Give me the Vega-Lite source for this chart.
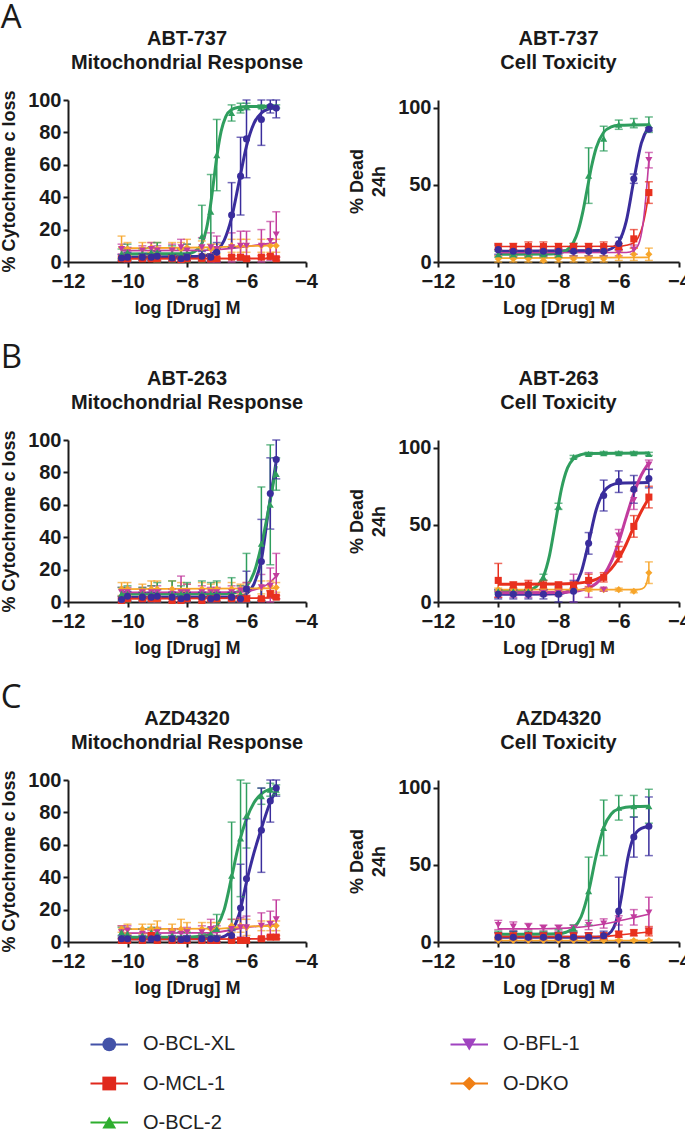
{
"$schema":"https://vega.github.io/schema/vega-lite/v6.json",
"padding":{"left":0,"top":1,"right":0,"bottom":0},
"spacing":24,
"config":{
 "view":{"stroke":null},
 "font":"Liberation Sans",
 "axis":{"domainColor":"#1a1a1a","domainWidth":2,"tickColor":"#1a1a1a","tickWidth":2,"tickSize":5,"labelFont":"Liberation Sans","labelFontSize":20,"labelFontWeight":"bold","labelColor":"#1a1a1a","titleFont":"Liberation Sans","titleFontSize":18,"titleFontWeight":"bold","titleColor":"#1a1a1a","grid":false,"labelFlush":false,"labelOverlap":false},
 "axisY":{"titlePadding":9,"labelPadding":2},
 "axisX":{"titlePadding":8,"labelPadding":4},
 "title":{"font":"Liberation Sans","fontSize":20,"fontWeight":"bold","color":"#1a1a1a","lineHeight":24,"anchor":"middle","frame":"group"}
},
"datasets":{
"leg":[{"s":"O-BCL-XL"},{"s":"O-MCL-1"},{"s":"O-BCL-2"},{"s":"O-BFL-1"},{"s":"O-DKO"}],
"pts":[
{"p":"A1","s":"O-DKO","x":-10.2,"y":9,"e":7},{"p":"A1","s":"O-DKO","x":-10,"y":8,"e":4},{"p":"A1","s":"O-DKO","x":-9.5,"y":8,"e":4},{"p":"A1","s":"O-DKO","x":-9.2,"y":9,"e":3},{"p":"A1","s":"O-DKO","x":-9,"y":8,"e":4},{"p":"A1","s":"O-DKO","x":-8.5,"y":8,"e":4},{"p":"A1","s":"O-DKO","x":-8.2,"y":8,"e":4},{"p":"A1","s":"O-DKO","x":-8,"y":9,"e":5},{"p":"A1","s":"O-DKO","x":-7.5,"y":9,"e":4},{"p":"A1","s":"O-DKO","x":-7.2,"y":8,"e":3},{"p":"A1","s":"O-DKO","x":-7,"y":8,"e":3},{"p":"A1","s":"O-DKO","x":-6.5,"y":10,"e":4},{"p":"A1","s":"O-DKO","x":-6.2,"y":10,"e":4},{"p":"A1","s":"O-DKO","x":-6,"y":10,"e":4},{"p":"A1","s":"O-DKO","x":-5.5,"y":10,"e":4},{"p":"A1","s":"O-DKO","x":-5.2,"y":10,"e":4},{"p":"A1","s":"O-DKO","x":-5,"y":10,"e":4},
{"p":"A1","s":"O-BFL-1","x":-10.2,"y":8,"e":3},{"p":"A1","s":"O-BFL-1","x":-10,"y":6,"e":3},{"p":"A1","s":"O-BFL-1","x":-9.5,"y":7,"e":3},{"p":"A1","s":"O-BFL-1","x":-9.2,"y":8,"e":4},{"p":"A1","s":"O-BFL-1","x":-9,"y":7,"e":3},{"p":"A1","s":"O-BFL-1","x":-8.5,"y":7,"e":4},{"p":"A1","s":"O-BFL-1","x":-8.2,"y":9,"e":5},{"p":"A1","s":"O-BFL-1","x":-8,"y":7,"e":4},{"p":"A1","s":"O-BFL-1","x":-7.5,"y":9,"e":6},{"p":"A1","s":"O-BFL-1","x":-7.2,"y":9,"e":9},{"p":"A1","s":"O-BFL-1","x":-7,"y":8,"e":8},{"p":"A1","s":"O-BFL-1","x":-6.5,"y":9,"e":9},{"p":"A1","s":"O-BFL-1","x":-6.2,"y":10,"e":9},{"p":"A1","s":"O-BFL-1","x":-6,"y":10,"e":9},{"p":"A1","s":"O-BFL-1","x":-5.5,"y":10,"e":10},{"p":"A1","s":"O-BFL-1","x":-5.2,"y":13,"e":12},{"p":"A1","s":"O-BFL-1","x":-5,"y":17,"e":14},
{"p":"A1","s":"O-BCL-2","x":-10.2,"y":5,"e":3},{"p":"A1","s":"O-BCL-2","x":-10,"y":6,"e":5},{"p":"A1","s":"O-BCL-2","x":-9.5,"y":5,"e":3},{"p":"A1","s":"O-BCL-2","x":-9.2,"y":6,"e":3},{"p":"A1","s":"O-BCL-2","x":-9,"y":6,"e":6},{"p":"A1","s":"O-BCL-2","x":-8.5,"y":5,"e":5},{"p":"A1","s":"O-BCL-2","x":-8.2,"y":5,"e":3},{"p":"A1","s":"O-BCL-2","x":-8,"y":5,"e":6},{"p":"A1","s":"O-BCL-2","x":-7.5,"y":16,"e":19},{"p":"A1","s":"O-BCL-2","x":-7.2,"y":31,"e":23},{"p":"A1","s":"O-BCL-2","x":-7,"y":66,"e":22},{"p":"A1","s":"O-BCL-2","x":-6.5,"y":92,"e":5},{"p":"A1","s":"O-BCL-2","x":-6.2,"y":95,"e":3},{"p":"A1","s":"O-BCL-2","x":-6,"y":96,"e":2},{"p":"A1","s":"O-BCL-2","x":-5.5,"y":96,"e":1},{"p":"A1","s":"O-BCL-2","x":-5.2,"y":96,"e":1},{"p":"A1","s":"O-BCL-2","x":-5,"y":96,"e":1},
{"p":"A1","s":"O-MCL-1","x":-10.2,"y":2,"e":1},{"p":"A1","s":"O-MCL-1","x":-10,"y":2,"e":1},{"p":"A1","s":"O-MCL-1","x":-9.5,"y":2,"e":1},{"p":"A1","s":"O-MCL-1","x":-9.2,"y":2,"e":1},{"p":"A1","s":"O-MCL-1","x":-9,"y":2,"e":1},{"p":"A1","s":"O-MCL-1","x":-8.5,"y":2,"e":1},{"p":"A1","s":"O-MCL-1","x":-8.2,"y":1.5,"e":1},{"p":"A1","s":"O-MCL-1","x":-8,"y":2,"e":1},{"p":"A1","s":"O-MCL-1","x":-7.5,"y":2,"e":1},{"p":"A1","s":"O-MCL-1","x":-7.2,"y":2,"e":1},{"p":"A1","s":"O-MCL-1","x":-7,"y":2,"e":1},{"p":"A1","s":"O-MCL-1","x":-6.5,"y":3,"e":1},{"p":"A1","s":"O-MCL-1","x":-6.2,"y":3,"e":1},{"p":"A1","s":"O-MCL-1","x":-6,"y":2,"e":1},{"p":"A1","s":"O-MCL-1","x":-5.5,"y":3,"e":1},{"p":"A1","s":"O-MCL-1","x":-5.2,"y":3.5,"e":1},{"p":"A1","s":"O-MCL-1","x":-5,"y":2,"e":1},
{"p":"A1","s":"O-BCL-XL","x":-10.2,"y":2.5,"e":2},{"p":"A1","s":"O-BCL-XL","x":-10,"y":3,"e":3},{"p":"A1","s":"O-BCL-XL","x":-9.5,"y":3,"e":2},{"p":"A1","s":"O-BCL-XL","x":-9.2,"y":3,"e":2},{"p":"A1","s":"O-BCL-XL","x":-9,"y":3.5,"e":3},{"p":"A1","s":"O-BCL-XL","x":-8.5,"y":2.5,"e":2},{"p":"A1","s":"O-BCL-XL","x":-8.2,"y":2,"e":2},{"p":"A1","s":"O-BCL-XL","x":-8,"y":3,"e":2},{"p":"A1","s":"O-BCL-XL","x":-7.5,"y":3.5,"e":3},{"p":"A1","s":"O-BCL-XL","x":-7.2,"y":3,"e":2},{"p":"A1","s":"O-BCL-XL","x":-7,"y":6,"e":6},{"p":"A1","s":"O-BCL-XL","x":-6.5,"y":29,"e":20},{"p":"A1","s":"O-BCL-XL","x":-6.2,"y":53,"e":24},{"p":"A1","s":"O-BCL-XL","x":-6,"y":76,"e":24},{"p":"A1","s":"O-BCL-XL","x":-5.5,"y":88,"e":16},{"p":"A1","s":"O-BCL-XL","x":-5.2,"y":96,"e":4},{"p":"A1","s":"O-BCL-XL","x":-5,"y":95,"e":6},

{"p":"A2","s":"O-DKO","x":-10,"y":2,"e":2},{"p":"A2","s":"O-DKO","x":-9.5,"y":2,"e":2},{"p":"A2","s":"O-DKO","x":-9,"y":2,"e":2},{"p":"A2","s":"O-DKO","x":-8.5,"y":1,"e":2},{"p":"A2","s":"O-DKO","x":-8,"y":2,"e":2},{"p":"A2","s":"O-DKO","x":-7.5,"y":2,"e":2},{"p":"A2","s":"O-DKO","x":-7,"y":2,"e":2},{"p":"A2","s":"O-DKO","x":-6.5,"y":2,"e":2},{"p":"A2","s":"O-DKO","x":-6,"y":4,"e":3},{"p":"A2","s":"O-DKO","x":-5.5,"y":5,"e":4},{"p":"A2","s":"O-DKO","x":-5,"y":5,"e":4},
{"p":"A2","s":"O-BFL-1","x":-10,"y":6,"e":2},{"p":"A2","s":"O-BFL-1","x":-9.5,"y":6,"e":2},{"p":"A2","s":"O-BFL-1","x":-9,"y":6,"e":2},{"p":"A2","s":"O-BFL-1","x":-8.5,"y":6,"e":2},{"p":"A2","s":"O-BFL-1","x":-8,"y":6,"e":2},{"p":"A2","s":"O-BFL-1","x":-7.5,"y":6,"e":2},{"p":"A2","s":"O-BFL-1","x":-7,"y":6,"e":2},{"p":"A2","s":"O-BFL-1","x":-6.5,"y":6,"e":2},{"p":"A2","s":"O-BFL-1","x":-6,"y":6,"e":2},{"p":"A2","s":"O-BFL-1","x":-5.5,"y":8,"e":3},{"p":"A2","s":"O-BFL-1","x":-5,"y":66,"e":5},
{"p":"A2","s":"O-BCL-2","x":-10,"y":5,"e":2},{"p":"A2","s":"O-BCL-2","x":-9.5,"y":5,"e":2},{"p":"A2","s":"O-BCL-2","x":-9,"y":5,"e":2},{"p":"A2","s":"O-BCL-2","x":-8.5,"y":5,"e":2},{"p":"A2","s":"O-BCL-2","x":-8,"y":5,"e":2},{"p":"A2","s":"O-BCL-2","x":-7.5,"y":9,"e":3},{"p":"A2","s":"O-BCL-2","x":-7,"y":56,"e":18},{"p":"A2","s":"O-BCL-2","x":-6.5,"y":80,"e":8},{"p":"A2","s":"O-BCL-2","x":-6,"y":89,"e":3},{"p":"A2","s":"O-BCL-2","x":-5.5,"y":90,"e":3},{"p":"A2","s":"O-BCL-2","x":-5,"y":89,"e":5},
{"p":"A2","s":"O-MCL-1","x":-10,"y":10,"e":2},{"p":"A2","s":"O-MCL-1","x":-9.5,"y":10,"e":2},{"p":"A2","s":"O-MCL-1","x":-9,"y":10,"e":3},{"p":"A2","s":"O-MCL-1","x":-8.5,"y":10,"e":3},{"p":"A2","s":"O-MCL-1","x":-8,"y":10,"e":2},{"p":"A2","s":"O-MCL-1","x":-7.5,"y":10,"e":2},{"p":"A2","s":"O-MCL-1","x":-7,"y":10,"e":2},{"p":"A2","s":"O-MCL-1","x":-6.5,"y":10,"e":3},{"p":"A2","s":"O-MCL-1","x":-6,"y":10,"e":2},{"p":"A2","s":"O-MCL-1","x":-5.5,"y":15,"e":6},{"p":"A2","s":"O-MCL-1","x":-5,"y":45,"e":7},
{"p":"A2","s":"O-BCL-XL","x":-10,"y":8,"e":3},{"p":"A2","s":"O-BCL-XL","x":-9.5,"y":7,"e":3},{"p":"A2","s":"O-BCL-XL","x":-9,"y":7,"e":3},{"p":"A2","s":"O-BCL-XL","x":-8.5,"y":7,"e":3},{"p":"A2","s":"O-BCL-XL","x":-8,"y":7,"e":2},{"p":"A2","s":"O-BCL-XL","x":-7.5,"y":7,"e":3},{"p":"A2","s":"O-BCL-XL","x":-7,"y":7,"e":3},{"p":"A2","s":"O-BCL-XL","x":-6.5,"y":7,"e":3},{"p":"A2","s":"O-BCL-XL","x":-6,"y":12,"e":4},{"p":"A2","s":"O-BCL-XL","x":-5.5,"y":54,"e":3},{"p":"A2","s":"O-BCL-XL","x":-5,"y":86,"e":1},

{"p":"B1","s":"O-DKO","x":-10.2,"y":8,"e":4},{"p":"B1","s":"O-DKO","x":-10,"y":8,"e":4},{"p":"B1","s":"O-DKO","x":-9.5,"y":7,"e":4},{"p":"B1","s":"O-DKO","x":-9.2,"y":8,"e":5},{"p":"B1","s":"O-DKO","x":-9,"y":8,"e":5},{"p":"B1","s":"O-DKO","x":-8.5,"y":8,"e":5},{"p":"B1","s":"O-DKO","x":-8.2,"y":7,"e":5},{"p":"B1","s":"O-DKO","x":-8,"y":7,"e":4},{"p":"B1","s":"O-DKO","x":-7.5,"y":8,"e":4},{"p":"B1","s":"O-DKO","x":-7.2,"y":7,"e":4},{"p":"B1","s":"O-DKO","x":-7,"y":8,"e":4},{"p":"B1","s":"O-DKO","x":-6.5,"y":8,"e":4},{"p":"B1","s":"O-DKO","x":-6.2,"y":8,"e":3},{"p":"B1","s":"O-DKO","x":-6,"y":8,"e":4},{"p":"B1","s":"O-DKO","x":-5.5,"y":9,"e":4},{"p":"B1","s":"O-DKO","x":-5.2,"y":10,"e":3},{"p":"B1","s":"O-DKO","x":-5,"y":9,"e":3},
{"p":"B1","s":"O-BFL-1","x":-10.2,"y":6,"e":3},{"p":"B1","s":"O-BFL-1","x":-10,"y":6,"e":3},{"p":"B1","s":"O-BFL-1","x":-9.5,"y":6,"e":3},{"p":"B1","s":"O-BFL-1","x":-9.2,"y":6,"e":4},{"p":"B1","s":"O-BFL-1","x":-9,"y":6,"e":4},{"p":"B1","s":"O-BFL-1","x":-8.5,"y":5,"e":3},{"p":"B1","s":"O-BFL-1","x":-8.2,"y":6,"e":10},{"p":"B1","s":"O-BFL-1","x":-8,"y":6,"e":5},{"p":"B1","s":"O-BFL-1","x":-7.5,"y":6,"e":4},{"p":"B1","s":"O-BFL-1","x":-7.2,"y":6,"e":3},{"p":"B1","s":"O-BFL-1","x":-7,"y":6,"e":3},{"p":"B1","s":"O-BFL-1","x":-6.5,"y":6,"e":4},{"p":"B1","s":"O-BFL-1","x":-6.2,"y":7,"e":3},{"p":"B1","s":"O-BFL-1","x":-6,"y":8,"e":4},{"p":"B1","s":"O-BFL-1","x":-5.5,"y":9,"e":8},{"p":"B1","s":"O-BFL-1","x":-5.2,"y":10,"e":11},{"p":"B1","s":"O-BFL-1","x":-5,"y":16,"e":14},
{"p":"B1","s":"O-BCL-2","x":-10.2,"y":5,"e":4},{"p":"B1","s":"O-BCL-2","x":-10,"y":5,"e":5},{"p":"B1","s":"O-BCL-2","x":-9.5,"y":5,"e":4},{"p":"B1","s":"O-BCL-2","x":-9.2,"y":5,"e":5},{"p":"B1","s":"O-BCL-2","x":-9,"y":5,"e":7},{"p":"B1","s":"O-BCL-2","x":-8.5,"y":5,"e":8},{"p":"B1","s":"O-BCL-2","x":-8.2,"y":5,"e":5},{"p":"B1","s":"O-BCL-2","x":-8,"y":5,"e":7},{"p":"B1","s":"O-BCL-2","x":-7.5,"y":5,"e":8},{"p":"B1","s":"O-BCL-2","x":-7.2,"y":5,"e":7},{"p":"B1","s":"O-BCL-2","x":-7,"y":5,"e":8},{"p":"B1","s":"O-BCL-2","x":-6.5,"y":5,"e":10},{"p":"B1","s":"O-BCL-2","x":-6.2,"y":5,"e":5},{"p":"B1","s":"O-BCL-2","x":-6,"y":8,"e":22},{"p":"B1","s":"O-BCL-2","x":-5.5,"y":36,"e":35},{"p":"B1","s":"O-BCL-2","x":-5.2,"y":60,"e":37},{"p":"B1","s":"O-BCL-2","x":-5,"y":79,"e":10},
{"p":"B1","s":"O-MCL-1","x":-10.2,"y":1,"e":1},{"p":"B1","s":"O-MCL-1","x":-10,"y":2,"e":1},{"p":"B1","s":"O-MCL-1","x":-9.5,"y":2,"e":1},{"p":"B1","s":"O-MCL-1","x":-9.2,"y":2,"e":1},{"p":"B1","s":"O-MCL-1","x":-9,"y":2,"e":1},{"p":"B1","s":"O-MCL-1","x":-8.5,"y":1,"e":1},{"p":"B1","s":"O-MCL-1","x":-8.2,"y":1,"e":1},{"p":"B1","s":"O-MCL-1","x":-8,"y":2,"e":1},{"p":"B1","s":"O-MCL-1","x":-7.5,"y":1,"e":1},{"p":"B1","s":"O-MCL-1","x":-7.2,"y":2,"e":1},{"p":"B1","s":"O-MCL-1","x":-7,"y":2,"e":1},{"p":"B1","s":"O-MCL-1","x":-6.5,"y":2,"e":1},{"p":"B1","s":"O-MCL-1","x":-6.2,"y":2,"e":1},{"p":"B1","s":"O-MCL-1","x":-6,"y":2,"e":1},{"p":"B1","s":"O-MCL-1","x":-5.5,"y":2,"e":1},{"p":"B1","s":"O-MCL-1","x":-5.2,"y":5,"e":2},{"p":"B1","s":"O-MCL-1","x":-5,"y":3,"e":1},
{"p":"B1","s":"O-BCL-XL","x":-10.2,"y":1.5,"e":2},{"p":"B1","s":"O-BCL-XL","x":-10,"y":3.5,"e":3},{"p":"B1","s":"O-BCL-XL","x":-9.5,"y":3,"e":3},{"p":"B1","s":"O-BCL-XL","x":-9.2,"y":3,"e":3},{"p":"B1","s":"O-BCL-XL","x":-9,"y":3.5,"e":4},{"p":"B1","s":"O-BCL-XL","x":-8.5,"y":3,"e":3},{"p":"B1","s":"O-BCL-XL","x":-8.2,"y":2,"e":2},{"p":"B1","s":"O-BCL-XL","x":-8,"y":3,"e":3},{"p":"B1","s":"O-BCL-XL","x":-7.5,"y":3,"e":3},{"p":"B1","s":"O-BCL-XL","x":-7.2,"y":2,"e":2},{"p":"B1","s":"O-BCL-XL","x":-7,"y":3,"e":3},{"p":"B1","s":"O-BCL-XL","x":-6.5,"y":3,"e":3},{"p":"B1","s":"O-BCL-XL","x":-6.2,"y":2,"e":2},{"p":"B1","s":"O-BCL-XL","x":-6,"y":8,"e":11},{"p":"B1","s":"O-BCL-XL","x":-5.5,"y":25,"e":26},{"p":"B1","s":"O-BCL-XL","x":-5.2,"y":67,"e":22},{"p":"B1","s":"O-BCL-XL","x":-5,"y":88,"e":12},

{"p":"B2","s":"O-DKO","x":-10,"y":8,"e":1},{"p":"B2","s":"O-DKO","x":-9.5,"y":8,"e":1},{"p":"B2","s":"O-DKO","x":-9,"y":8,"e":1},{"p":"B2","s":"O-DKO","x":-8.5,"y":8,"e":1},{"p":"B2","s":"O-DKO","x":-8,"y":8,"e":1},{"p":"B2","s":"O-DKO","x":-7.5,"y":8,"e":1},{"p":"B2","s":"O-DKO","x":-7,"y":8,"e":1},{"p":"B2","s":"O-DKO","x":-6.5,"y":8,"e":1},{"p":"B2","s":"O-DKO","x":-6,"y":8,"e":1},{"p":"B2","s":"O-DKO","x":-5.5,"y":7,"e":1},{"p":"B2","s":"O-DKO","x":-5,"y":19,"e":7},
{"p":"B2","s":"O-BFL-1","x":-10,"y":5,"e":2},{"p":"B2","s":"O-BFL-1","x":-9.5,"y":5,"e":2},{"p":"B2","s":"O-BFL-1","x":-9,"y":5,"e":2},{"p":"B2","s":"O-BFL-1","x":-8.5,"y":6,"e":2},{"p":"B2","s":"O-BFL-1","x":-8,"y":6,"e":2},{"p":"B2","s":"O-BFL-1","x":-7.5,"y":9,"e":9},{"p":"B2","s":"O-BFL-1","x":-7,"y":11,"e":8},{"p":"B2","s":"O-BFL-1","x":-6.5,"y":8,"e":1},{"p":"B2","s":"O-BFL-1","x":-6,"y":43,"e":4},{"p":"B2","s":"O-BFL-1","x":-5.5,"y":66,"e":6},{"p":"B2","s":"O-BFL-1","x":-5,"y":89,"e":3},
{"p":"B2","s":"O-BCL-2","x":-10,"y":7,"e":1},{"p":"B2","s":"O-BCL-2","x":-9.5,"y":7,"e":1},{"p":"B2","s":"O-BCL-2","x":-9,"y":7,"e":1},{"p":"B2","s":"O-BCL-2","x":-8.5,"y":16,"e":2},{"p":"B2","s":"O-BCL-2","x":-8,"y":62,"e":2},{"p":"B2","s":"O-BCL-2","x":-7.5,"y":94,"e":1},{"p":"B2","s":"O-BCL-2","x":-7,"y":96,"e":1},{"p":"B2","s":"O-BCL-2","x":-6.5,"y":96.5,"e":1},{"p":"B2","s":"O-BCL-2","x":-6,"y":96.5,"e":1},{"p":"B2","s":"O-BCL-2","x":-5.5,"y":96.5,"e":1},{"p":"B2","s":"O-BCL-2","x":-5,"y":96,"e":1},
{"p":"B2","s":"O-MCL-1","x":-10,"y":14,"e":11},{"p":"B2","s":"O-MCL-1","x":-9.5,"y":11,"e":2},{"p":"B2","s":"O-MCL-1","x":-9,"y":11,"e":3},{"p":"B2","s":"O-MCL-1","x":-8.5,"y":11,"e":3},{"p":"B2","s":"O-MCL-1","x":-8,"y":11,"e":2},{"p":"B2","s":"O-MCL-1","x":-7.5,"y":11,"e":2},{"p":"B2","s":"O-MCL-1","x":-7,"y":14,"e":4},{"p":"B2","s":"O-MCL-1","x":-6.5,"y":16,"e":3},{"p":"B2","s":"O-MCL-1","x":-6,"y":31,"e":5},{"p":"B2","s":"O-MCL-1","x":-5.5,"y":49,"e":7},{"p":"B2","s":"O-MCL-1","x":-5,"y":68,"e":7},
{"p":"B2","s":"O-BCL-XL","x":-10,"y":5,"e":3},{"p":"B2","s":"O-BCL-XL","x":-9.5,"y":5,"e":3},{"p":"B2","s":"O-BCL-XL","x":-9,"y":5,"e":3},{"p":"B2","s":"O-BCL-XL","x":-8.5,"y":5,"e":3},{"p":"B2","s":"O-BCL-XL","x":-8,"y":5,"e":5},{"p":"B2","s":"O-BCL-XL","x":-7.5,"y":7,"e":7},{"p":"B2","s":"O-BCL-XL","x":-7,"y":38,"e":7},{"p":"B2","s":"O-BCL-XL","x":-6.5,"y":69,"e":10},{"p":"B2","s":"O-BCL-XL","x":-6,"y":78,"e":7},{"p":"B2","s":"O-BCL-XL","x":-5.5,"y":73,"e":9},{"p":"B2","s":"O-BCL-XL","x":-5,"y":80,"e":6},

{"p":"C1","s":"O-DKO","x":-10.2,"y":8,"e":2},{"p":"C1","s":"O-DKO","x":-10,"y":8,"e":3},{"p":"C1","s":"O-DKO","x":-9.5,"y":8,"e":3},{"p":"C1","s":"O-DKO","x":-9.2,"y":8,"e":3},{"p":"C1","s":"O-DKO","x":-9,"y":8,"e":5},{"p":"C1","s":"O-DKO","x":-8.5,"y":7,"e":4},{"p":"C1","s":"O-DKO","x":-8.2,"y":8,"e":6},{"p":"C1","s":"O-DKO","x":-8,"y":7,"e":5},{"p":"C1","s":"O-DKO","x":-7.5,"y":8,"e":4},{"p":"C1","s":"O-DKO","x":-7.2,"y":8,"e":4},{"p":"C1","s":"O-DKO","x":-7,"y":8,"e":4},{"p":"C1","s":"O-DKO","x":-6.5,"y":10,"e":4},{"p":"C1","s":"O-DKO","x":-6.2,"y":10,"e":4},{"p":"C1","s":"O-DKO","x":-6,"y":9,"e":5},{"p":"C1","s":"O-DKO","x":-5.5,"y":10,"e":3},{"p":"C1","s":"O-DKO","x":-5.2,"y":10,"e":3},{"p":"C1","s":"O-DKO","x":-5,"y":10,"e":3},
{"p":"C1","s":"O-BFL-1","x":-10.2,"y":6,"e":4},{"p":"C1","s":"O-BFL-1","x":-10,"y":7,"e":3},{"p":"C1","s":"O-BFL-1","x":-9.5,"y":5,"e":3},{"p":"C1","s":"O-BFL-1","x":-9.2,"y":4,"e":3},{"p":"C1","s":"O-BFL-1","x":-9,"y":6,"e":3},{"p":"C1","s":"O-BFL-1","x":-8.5,"y":5,"e":3},{"p":"C1","s":"O-BFL-1","x":-8.2,"y":5,"e":3},{"p":"C1","s":"O-BFL-1","x":-8,"y":6,"e":3},{"p":"C1","s":"O-BFL-1","x":-7.5,"y":6,"e":4},{"p":"C1","s":"O-BFL-1","x":-7.2,"y":8,"e":6},{"p":"C1","s":"O-BFL-1","x":-7,"y":6,"e":4},{"p":"C1","s":"O-BFL-1","x":-6.5,"y":8,"e":6},{"p":"C1","s":"O-BFL-1","x":-6.2,"y":9,"e":6},{"p":"C1","s":"O-BFL-1","x":-6,"y":9,"e":7},{"p":"C1","s":"O-BFL-1","x":-5.5,"y":10,"e":8},{"p":"C1","s":"O-BFL-1","x":-5.2,"y":11,"e":8},{"p":"C1","s":"O-BFL-1","x":-5,"y":14,"e":12},
{"p":"C1","s":"O-BCL-2","x":-10.2,"y":6,"e":3},{"p":"C1","s":"O-BCL-2","x":-10,"y":5,"e":3},{"p":"C1","s":"O-BCL-2","x":-9.5,"y":4,"e":4},{"p":"C1","s":"O-BCL-2","x":-9.2,"y":6,"e":3},{"p":"C1","s":"O-BCL-2","x":-9,"y":5,"e":3},{"p":"C1","s":"O-BCL-2","x":-8.5,"y":4,"e":3},{"p":"C1","s":"O-BCL-2","x":-8.2,"y":3,"e":3},{"p":"C1","s":"O-BCL-2","x":-8,"y":3,"e":3},{"p":"C1","s":"O-BCL-2","x":-7.5,"y":3,"e":2},{"p":"C1","s":"O-BCL-2","x":-7.2,"y":5,"e":4},{"p":"C1","s":"O-BCL-2","x":-7,"y":8,"e":9},{"p":"C1","s":"O-BCL-2","x":-6.5,"y":41,"e":33},{"p":"C1","s":"O-BCL-2","x":-6.2,"y":64,"e":36},{"p":"C1","s":"O-BCL-2","x":-6,"y":78,"e":20},{"p":"C1","s":"O-BCL-2","x":-5.5,"y":90,"e":5},{"p":"C1","s":"O-BCL-2","x":-5.2,"y":94,"e":4},{"p":"C1","s":"O-BCL-2","x":-5,"y":94,"e":3},
{"p":"C1","s":"O-MCL-1","x":-10.2,"y":1,"e":1},{"p":"C1","s":"O-MCL-1","x":-10,"y":1,"e":1},{"p":"C1","s":"O-MCL-1","x":-9.5,"y":1,"e":1},{"p":"C1","s":"O-MCL-1","x":-9.2,"y":4,"e":1},{"p":"C1","s":"O-MCL-1","x":-9,"y":1,"e":1},{"p":"C1","s":"O-MCL-1","x":-8.5,"y":1,"e":1},{"p":"C1","s":"O-MCL-1","x":-8.2,"y":1,"e":1},{"p":"C1","s":"O-MCL-1","x":-8,"y":1,"e":1},{"p":"C1","s":"O-MCL-1","x":-7.5,"y":1,"e":1},{"p":"C1","s":"O-MCL-1","x":-7.2,"y":1,"e":1},{"p":"C1","s":"O-MCL-1","x":-7,"y":1,"e":1},{"p":"C1","s":"O-MCL-1","x":-6.5,"y":1,"e":1},{"p":"C1","s":"O-MCL-1","x":-6.2,"y":1,"e":1},{"p":"C1","s":"O-MCL-1","x":-6,"y":1,"e":1},{"p":"C1","s":"O-MCL-1","x":-5.5,"y":2,"e":1},{"p":"C1","s":"O-MCL-1","x":-5.2,"y":3,"e":1},{"p":"C1","s":"O-MCL-1","x":-5,"y":3,"e":1},
{"p":"C1","s":"O-BCL-XL","x":-10.2,"y":2,"e":2},{"p":"C1","s":"O-BCL-XL","x":-10,"y":2,"e":2},{"p":"C1","s":"O-BCL-XL","x":-9.5,"y":2,"e":2},{"p":"C1","s":"O-BCL-XL","x":-9.2,"y":2,"e":2},{"p":"C1","s":"O-BCL-XL","x":-9,"y":2.5,"e":2},{"p":"C1","s":"O-BCL-XL","x":-8.5,"y":2,"e":2},{"p":"C1","s":"O-BCL-XL","x":-8.2,"y":1.5,"e":2},{"p":"C1","s":"O-BCL-XL","x":-8,"y":2,"e":2},{"p":"C1","s":"O-BCL-XL","x":-7.5,"y":2,"e":2},{"p":"C1","s":"O-BCL-XL","x":-7.2,"y":2,"e":2},{"p":"C1","s":"O-BCL-XL","x":-7,"y":2,"e":2},{"p":"C1","s":"O-BCL-XL","x":-6.5,"y":4,"e":3},{"p":"C1","s":"O-BCL-XL","x":-6.2,"y":21,"e":27},{"p":"C1","s":"O-BCL-XL","x":-6,"y":39,"e":37},{"p":"C1","s":"O-BCL-XL","x":-5.5,"y":69,"e":26},{"p":"C1","s":"O-BCL-XL","x":-5.2,"y":87,"e":13},{"p":"C1","s":"O-BCL-XL","x":-5,"y":95,"e":5},

{"p":"C2","s":"O-DKO","x":-10,"y":1,"e":0.5},{"p":"C2","s":"O-DKO","x":-9.5,"y":1,"e":0.5},{"p":"C2","s":"O-DKO","x":-9,"y":1,"e":0.5},{"p":"C2","s":"O-DKO","x":-8.5,"y":1,"e":0.5},{"p":"C2","s":"O-DKO","x":-8,"y":1,"e":0.5},{"p":"C2","s":"O-DKO","x":-7.5,"y":1,"e":0.5},{"p":"C2","s":"O-DKO","x":-7,"y":1,"e":0.5},{"p":"C2","s":"O-DKO","x":-6.5,"y":1,"e":0.5},{"p":"C2","s":"O-DKO","x":-6,"y":1,"e":0.5},{"p":"C2","s":"O-DKO","x":-5.5,"y":1,"e":0.5},{"p":"C2","s":"O-DKO","x":-5,"y":1,"e":0.5},
{"p":"C2","s":"O-BFL-1","x":-10,"y":11,"e":3},{"p":"C2","s":"O-BFL-1","x":-9.5,"y":10,"e":3},{"p":"C2","s":"O-BFL-1","x":-9,"y":10,"e":2},{"p":"C2","s":"O-BFL-1","x":-8.5,"y":9,"e":2},{"p":"C2","s":"O-BFL-1","x":-8,"y":9,"e":2},{"p":"C2","s":"O-BFL-1","x":-7.5,"y":9,"e":2},{"p":"C2","s":"O-BFL-1","x":-7,"y":11,"e":3},{"p":"C2","s":"O-BFL-1","x":-6.5,"y":12,"e":3},{"p":"C2","s":"O-BFL-1","x":-6,"y":14,"e":3},{"p":"C2","s":"O-BFL-1","x":-5.5,"y":16,"e":5},{"p":"C2","s":"O-BFL-1","x":-5,"y":19,"e":10},
{"p":"C2","s":"O-BCL-2","x":-10,"y":5,"e":2},{"p":"C2","s":"O-BCL-2","x":-9.5,"y":5,"e":2},{"p":"C2","s":"O-BCL-2","x":-9,"y":5,"e":2},{"p":"C2","s":"O-BCL-2","x":-8.5,"y":5,"e":2},{"p":"C2","s":"O-BCL-2","x":-8,"y":6,"e":2},{"p":"C2","s":"O-BCL-2","x":-7.5,"y":9,"e":2},{"p":"C2","s":"O-BCL-2","x":-7,"y":33,"e":22},{"p":"C2","s":"O-BCL-2","x":-6.5,"y":74,"e":18},{"p":"C2","s":"O-BCL-2","x":-6,"y":87,"e":8},{"p":"C2","s":"O-BCL-2","x":-5.5,"y":88,"e":7},{"p":"C2","s":"O-BCL-2","x":-5,"y":88,"e":11},
{"p":"C2","s":"O-MCL-1","x":-10,"y":4,"e":2},{"p":"C2","s":"O-MCL-1","x":-9.5,"y":4,"e":2},{"p":"C2","s":"O-MCL-1","x":-9,"y":4,"e":2},{"p":"C2","s":"O-MCL-1","x":-8.5,"y":4,"e":2},{"p":"C2","s":"O-MCL-1","x":-8,"y":4,"e":2},{"p":"C2","s":"O-MCL-1","x":-7.5,"y":4,"e":2},{"p":"C2","s":"O-MCL-1","x":-7,"y":4,"e":2},{"p":"C2","s":"O-MCL-1","x":-6.5,"y":4,"e":2},{"p":"C2","s":"O-MCL-1","x":-6,"y":5,"e":2},{"p":"C2","s":"O-MCL-1","x":-5.5,"y":6,"e":2},{"p":"C2","s":"O-MCL-1","x":-5,"y":7,"e":3},
{"p":"C2","s":"O-BCL-XL","x":-10,"y":3,"e":3},{"p":"C2","s":"O-BCL-XL","x":-9.5,"y":3,"e":4},{"p":"C2","s":"O-BCL-XL","x":-9,"y":3,"e":3},{"p":"C2","s":"O-BCL-XL","x":-8.5,"y":3,"e":3},{"p":"C2","s":"O-BCL-XL","x":-8,"y":3,"e":3},{"p":"C2","s":"O-BCL-XL","x":-7.5,"y":3,"e":3},{"p":"C2","s":"O-BCL-XL","x":-7,"y":3,"e":3},{"p":"C2","s":"O-BCL-XL","x":-6.5,"y":4,"e":3},{"p":"C2","s":"O-BCL-XL","x":-6,"y":20,"e":22},{"p":"C2","s":"O-BCL-XL","x":-5.5,"y":68,"e":13},{"p":"C2","s":"O-BCL-XL","x":-5,"y":75,"e":19}
],
"fit":[
{"p":"A1","s":"O-BCL-XL","x":-10.2,"y":3},{"p":"A1","s":"O-BCL-XL","x":-7.5,"y":3.5},{"p":"A1","s":"O-BCL-XL","x":-7.25,"y":4.5},{"p":"A1","s":"O-BCL-XL","x":-7,"y":7},{"p":"A1","s":"O-BCL-XL","x":-6.75,"y":13.4},{"p":"A1","s":"O-BCL-XL","x":-6.5,"y":27.4},{"p":"A1","s":"O-BCL-XL","x":-6.25,"y":49.5},{"p":"A1","s":"O-BCL-XL","x":-6,"y":71.6},{"p":"A1","s":"O-BCL-XL","x":-5.75,"y":85.6},{"p":"A1","s":"O-BCL-XL","x":-5.5,"y":92},{"p":"A1","s":"O-BCL-XL","x":-5.25,"y":94.5},{"p":"A1","s":"O-BCL-XL","x":-5,"y":95.5},
{"p":"A1","s":"O-BCL-2","x":-10.2,"y":5},{"p":"A1","s":"O-BCL-2","x":-8,"y":5.1},{"p":"A1","s":"O-BCL-2","x":-7.75,"y":6.4},{"p":"A1","s":"O-BCL-2","x":-7.5,"y":11.4},{"p":"A1","s":"O-BCL-2","x":-7.35,"y":20.1},{"p":"A1","s":"O-BCL-2","x":-7.2,"y":36.3},{"p":"A1","s":"O-BCL-2","x":-7.1,"y":50.5},{"p":"A1","s":"O-BCL-2","x":-7,"y":64.7},{"p":"A1","s":"O-BCL-2","x":-6.85,"y":80.9},{"p":"A1","s":"O-BCL-2","x":-6.7,"y":89.6},{"p":"A1","s":"O-BCL-2","x":-6.5,"y":94.1},{"p":"A1","s":"O-BCL-2","x":-6.25,"y":95.6},{"p":"A1","s":"O-BCL-2","x":-6,"y":96},{"p":"A1","s":"O-BCL-2","x":-5,"y":96},
{"p":"A1","s":"O-MCL-1","x":-10.2,"y":2},{"p":"A1","s":"O-MCL-1","x":-5,"y":2.2},
{"p":"A1","s":"O-BFL-1","x":-10.2,"y":7},{"p":"A1","s":"O-BFL-1","x":-7.5,"y":7.2},{"p":"A1","s":"O-BFL-1","x":-7,"y":7.6},{"p":"A1","s":"O-BFL-1","x":-6.5,"y":8.4},{"p":"A1","s":"O-BFL-1","x":-6,"y":9.5},{"p":"A1","s":"O-BFL-1","x":-5.5,"y":10.8},{"p":"A1","s":"O-BFL-1","x":-5,"y":12},
{"p":"A1","s":"O-DKO","x":-10.2,"y":8.5},{"p":"A1","s":"O-DKO","x":-8,"y":8.8},{"p":"A1","s":"O-DKO","x":-7,"y":9.2},{"p":"A1","s":"O-DKO","x":-6,"y":9.8},{"p":"A1","s":"O-DKO","x":-5,"y":10.3},

{"p":"A2","s":"O-BCL-XL","x":-10,"y":7},{"p":"A2","s":"O-BCL-XL","x":-6.5,"y":7.4},{"p":"A2","s":"O-BCL-XL","x":-6.25,"y":8.6},{"p":"A2","s":"O-BCL-XL","x":-6,"y":12.9},{"p":"A2","s":"O-BCL-XL","x":-5.75,"y":26.5},{"p":"A2","s":"O-BCL-XL","x":-5.5,"y":53},{"p":"A2","s":"O-BCL-XL","x":-5.25,"y":77},{"p":"A2","s":"O-BCL-XL","x":-5,"y":87.7},
{"p":"A2","s":"O-BCL-2","x":-10,"y":5},{"p":"A2","s":"O-BCL-2","x":-8.25,"y":5.2},{"p":"A2","s":"O-BCL-2","x":-8,"y":5.7},{"p":"A2","s":"O-BCL-2","x":-7.75,"y":7.4},{"p":"A2","s":"O-BCL-2","x":-7.5,"y":12.8},{"p":"A2","s":"O-BCL-2","x":-7.35,"y":20.1},{"p":"A2","s":"O-BCL-2","x":-7.2,"y":31.8},{"p":"A2","s":"O-BCL-2","x":-7.05,"y":47},{"p":"A2","s":"O-BCL-2","x":-6.9,"y":62.2},{"p":"A2","s":"O-BCL-2","x":-6.75,"y":73.9},{"p":"A2","s":"O-BCL-2","x":-6.5,"y":84.1},{"p":"A2","s":"O-BCL-2","x":-6.25,"y":87.6},{"p":"A2","s":"O-BCL-2","x":-6,"y":88.6},{"p":"A2","s":"O-BCL-2","x":-5,"y":89},
{"p":"A2","s":"O-MCL-1","x":-10,"y":10},{"p":"A2","s":"O-MCL-1","x":-6,"y":10.2},{"p":"A2","s":"O-MCL-1","x":-5.75,"y":10.8},{"p":"A2","s":"O-MCL-1","x":-5.5,"y":12.5},{"p":"A2","s":"O-MCL-1","x":-5.35,"y":16},{"p":"A2","s":"O-MCL-1","x":-5.2,"y":24},{"p":"A2","s":"O-MCL-1","x":-5.1,"y":33},{"p":"A2","s":"O-MCL-1","x":-5,"y":45},
{"p":"A2","s":"O-BFL-1","x":-10,"y":6},{"p":"A2","s":"O-BFL-1","x":-5.75,"y":6.2},{"p":"A2","s":"O-BFL-1","x":-5.5,"y":7.5},{"p":"A2","s":"O-BFL-1","x":-5.35,"y":11},{"p":"A2","s":"O-BFL-1","x":-5.2,"y":24},{"p":"A2","s":"O-BFL-1","x":-5.1,"y":42},{"p":"A2","s":"O-BFL-1","x":-5,"y":66},
{"p":"A2","s":"O-DKO","x":-10,"y":2.5},{"p":"A2","s":"O-DKO","x":-5,"y":3},

{"p":"B1","s":"O-BCL-XL","x":-10.2,"y":3},{"p":"B1","s":"O-BCL-XL","x":-6.5,"y":3.1},{"p":"B1","s":"O-BCL-XL","x":-6.2,"y":3.6},{"p":"B1","s":"O-BCL-XL","x":-6,"y":5},{"p":"B1","s":"O-BCL-XL","x":-5.75,"y":11},{"p":"B1","s":"O-BCL-XL","x":-5.5,"y":26},{"p":"B1","s":"O-BCL-XL","x":-5.25,"y":58},{"p":"B1","s":"O-BCL-XL","x":-5,"y":87},
{"p":"B1","s":"O-BCL-2","x":-10.2,"y":5},{"p":"B1","s":"O-BCL-2","x":-6.5,"y":5.3},{"p":"B1","s":"O-BCL-2","x":-6.25,"y":6.5},{"p":"B1","s":"O-BCL-2","x":-6,"y":9.5},{"p":"B1","s":"O-BCL-2","x":-5.75,"y":18},{"p":"B1","s":"O-BCL-2","x":-5.5,"y":35},{"p":"B1","s":"O-BCL-2","x":-5.25,"y":58},{"p":"B1","s":"O-BCL-2","x":-5,"y":84},
{"p":"B1","s":"O-MCL-1","x":-10.2,"y":2},{"p":"B1","s":"O-MCL-1","x":-5,"y":2.5},
{"p":"B1","s":"O-BFL-1","x":-10.2,"y":6},{"p":"B1","s":"O-BFL-1","x":-6.25,"y":6.1},{"p":"B1","s":"O-BFL-1","x":-6,"y":6.5},{"p":"B1","s":"O-BFL-1","x":-5.75,"y":7.5},{"p":"B1","s":"O-BFL-1","x":-5.5,"y":9},{"p":"B1","s":"O-BFL-1","x":-5.25,"y":11.5},{"p":"B1","s":"O-BFL-1","x":-5,"y":16},
{"p":"B1","s":"O-DKO","x":-10.2,"y":8},{"p":"B1","s":"O-DKO","x":-5,"y":8.5},

{"p":"B2","s":"O-BCL-XL","x":-10,"y":5},{"p":"B2","s":"O-BCL-XL","x":-8,"y":5.4},{"p":"B2","s":"O-BCL-XL","x":-7.75,"y":6.4},{"p":"B2","s":"O-BCL-XL","x":-7.5,"y":9.6},{"p":"B2","s":"O-BCL-XL","x":-7.25,"y":19.1},{"p":"B2","s":"O-BCL-XL","x":-7,"y":38.5},{"p":"B2","s":"O-BCL-XL","x":-6.75,"y":59.6},{"p":"B2","s":"O-BCL-XL","x":-6.5,"y":71.4},{"p":"B2","s":"O-BCL-XL","x":-6.25,"y":75.7},{"p":"B2","s":"O-BCL-XL","x":-6,"y":77},{"p":"B2","s":"O-BCL-XL","x":-5,"y":77.5},
{"p":"B2","s":"O-BCL-2","x":-10,"y":7},{"p":"B2","s":"O-BCL-2","x":-9.25,"y":7.2},{"p":"B2","s":"O-BCL-2","x":-9,"y":7.75},{"p":"B2","s":"O-BCL-2","x":-8.75,"y":9.8},{"p":"B2","s":"O-BCL-2","x":-8.5,"y":16.6},{"p":"B2","s":"O-BCL-2","x":-8.3,"y":30.1},{"p":"B2","s":"O-BCL-2","x":-8.1,"y":51.75},{"p":"B2","s":"O-BCL-2","x":-7.9,"y":73.4},{"p":"B2","s":"O-BCL-2","x":-7.7,"y":86.9},{"p":"B2","s":"O-BCL-2","x":-7.5,"y":92.9},{"p":"B2","s":"O-BCL-2","x":-7.25,"y":95.5},{"p":"B2","s":"O-BCL-2","x":-7,"y":96.2},{"p":"B2","s":"O-BCL-2","x":-5,"y":96.5},
{"p":"B2","s":"O-MCL-1","x":-10,"y":11.5},{"p":"B2","s":"O-MCL-1","x":-8,"y":11.7},{"p":"B2","s":"O-MCL-1","x":-7.5,"y":12},{"p":"B2","s":"O-MCL-1","x":-7,"y":13.2},{"p":"B2","s":"O-MCL-1","x":-6.75,"y":14.7},{"p":"B2","s":"O-MCL-1","x":-6.5,"y":17.2},{"p":"B2","s":"O-MCL-1","x":-6.25,"y":21.6},{"p":"B2","s":"O-MCL-1","x":-6,"y":28.3},{"p":"B2","s":"O-MCL-1","x":-5.75,"y":37.6},{"p":"B2","s":"O-MCL-1","x":-5.5,"y":48.7},{"p":"B2","s":"O-MCL-1","x":-5.25,"y":58.8},{"p":"B2","s":"O-MCL-1","x":-5,"y":67.2},
{"p":"B2","s":"O-BFL-1","x":-10,"y":6},{"p":"B2","s":"O-BFL-1","x":-8,"y":6.2},{"p":"B2","s":"O-BFL-1","x":-7.5,"y":6.8},{"p":"B2","s":"O-BFL-1","x":-7,"y":9.1},{"p":"B2","s":"O-BFL-1","x":-6.75,"y":12},{"p":"B2","s":"O-BFL-1","x":-6.5,"y":17.3},{"p":"B2","s":"O-BFL-1","x":-6.25,"y":26.1},{"p":"B2","s":"O-BFL-1","x":-6,"y":39.1},{"p":"B2","s":"O-BFL-1","x":-5.75,"y":55},{"p":"B2","s":"O-BFL-1","x":-5.5,"y":70.3},{"p":"B2","s":"O-BFL-1","x":-5.25,"y":82.3},{"p":"B2","s":"O-BFL-1","x":-5,"y":90.2},
{"p":"B2","s":"O-DKO","x":-10,"y":8},{"p":"B2","s":"O-DKO","x":-5.5,"y":8},{"p":"B2","s":"O-DKO","x":-5.3,"y":8.2},{"p":"B2","s":"O-DKO","x":-5.15,"y":9.5},{"p":"B2","s":"O-DKO","x":-5.08,"y":12},{"p":"B2","s":"O-DKO","x":-5,"y":19},

{"p":"C1","s":"O-BCL-XL","x":-10.2,"y":2},{"p":"C1","s":"O-BCL-XL","x":-7.5,"y":2},{"p":"C1","s":"O-BCL-XL","x":-7,"y":2.3},{"p":"C1","s":"O-BCL-XL","x":-6.75,"y":3.5},{"p":"C1","s":"O-BCL-XL","x":-6.5,"y":7},{"p":"C1","s":"O-BCL-XL","x":-6.25,"y":17},{"p":"C1","s":"O-BCL-XL","x":-6,"y":37},{"p":"C1","s":"O-BCL-XL","x":-5.75,"y":55},{"p":"C1","s":"O-BCL-XL","x":-5.5,"y":70},{"p":"C1","s":"O-BCL-XL","x":-5.25,"y":84},{"p":"C1","s":"O-BCL-XL","x":-5,"y":94},
{"p":"C1","s":"O-BCL-2","x":-10.2,"y":3},{"p":"C1","s":"O-BCL-2","x":-8,"y":3},{"p":"C1","s":"O-BCL-2","x":-7.5,"y":3.5},{"p":"C1","s":"O-BCL-2","x":-7.25,"y":5},{"p":"C1","s":"O-BCL-2","x":-7,"y":9.5},{"p":"C1","s":"O-BCL-2","x":-6.75,"y":20},{"p":"C1","s":"O-BCL-2","x":-6.5,"y":40},{"p":"C1","s":"O-BCL-2","x":-6.25,"y":61},{"p":"C1","s":"O-BCL-2","x":-6,"y":76},{"p":"C1","s":"O-BCL-2","x":-5.75,"y":86},{"p":"C1","s":"O-BCL-2","x":-5.5,"y":91.5},{"p":"C1","s":"O-BCL-2","x":-5.25,"y":94},{"p":"C1","s":"O-BCL-2","x":-5,"y":95},
{"p":"C1","s":"O-MCL-1","x":-10.2,"y":1.5},{"p":"C1","s":"O-MCL-1","x":-5,"y":2},
{"p":"C1","s":"O-BFL-1","x":-10.2,"y":5.5},{"p":"C1","s":"O-BFL-1","x":-7.5,"y":5.6},{"p":"C1","s":"O-BFL-1","x":-7,"y":6},{"p":"C1","s":"O-BFL-1","x":-6.5,"y":7.5},{"p":"C1","s":"O-BFL-1","x":-6,"y":9},{"p":"C1","s":"O-BFL-1","x":-5.5,"y":10},{"p":"C1","s":"O-BFL-1","x":-5,"y":11},
{"p":"C1","s":"O-DKO","x":-10.2,"y":8},{"p":"C1","s":"O-DKO","x":-7,"y":8.2},{"p":"C1","s":"O-DKO","x":-6.5,"y":8.8},{"p":"C1","s":"O-DKO","x":-6,"y":9.5},{"p":"C1","s":"O-DKO","x":-5,"y":10},

{"p":"C2","s":"O-BCL-XL","x":-10,"y":3},{"p":"C2","s":"O-BCL-XL","x":-6.75,"y":3.1},{"p":"C2","s":"O-BCL-XL","x":-6.5,"y":3.7},{"p":"C2","s":"O-BCL-XL","x":-6.25,"y":6.7},{"p":"C2","s":"O-BCL-XL","x":-6.1,"y":12.6},{"p":"C2","s":"O-BCL-XL","x":-6,"y":20},{"p":"C2","s":"O-BCL-XL","x":-5.9,"y":30.4},{"p":"C2","s":"O-BCL-XL","x":-5.8,"y":42.7},{"p":"C2","s":"O-BCL-XL","x":-5.7,"y":54.2},{"p":"C2","s":"O-BCL-XL","x":-5.5,"y":68.3},{"p":"C2","s":"O-BCL-XL","x":-5.25,"y":73.7},{"p":"C2","s":"O-BCL-XL","x":-5,"y":74.8},
{"p":"C2","s":"O-BCL-2","x":-10,"y":5},{"p":"C2","s":"O-BCL-2","x":-8,"y":5.4},{"p":"C2","s":"O-BCL-2","x":-7.75,"y":6.3},{"p":"C2","s":"O-BCL-2","x":-7.5,"y":9},{"p":"C2","s":"O-BCL-2","x":-7.25,"y":16.4},{"p":"C2","s":"O-BCL-2","x":-7,"y":32.7},{"p":"C2","s":"O-BCL-2","x":-6.75,"y":55.9},{"p":"C2","s":"O-BCL-2","x":-6.5,"y":74.2},{"p":"C2","s":"O-BCL-2","x":-6.25,"y":83},{"p":"C2","s":"O-BCL-2","x":-6,"y":86.3},{"p":"C2","s":"O-BCL-2","x":-5.5,"y":87.8},{"p":"C2","s":"O-BCL-2","x":-5,"y":88},
{"p":"C2","s":"O-MCL-1","x":-10,"y":3.5},{"p":"C2","s":"O-MCL-1","x":-6.5,"y":3.6},{"p":"C2","s":"O-MCL-1","x":-6,"y":4.5},{"p":"C2","s":"O-MCL-1","x":-5.5,"y":5.5},{"p":"C2","s":"O-MCL-1","x":-5,"y":6.5},
{"p":"C2","s":"O-BFL-1","x":-10,"y":8.5},{"p":"C2","s":"O-BFL-1","x":-8.5,"y":8.6},{"p":"C2","s":"O-BFL-1","x":-8,"y":8.8},{"p":"C2","s":"O-BFL-1","x":-7.5,"y":9.3},{"p":"C2","s":"O-BFL-1","x":-7,"y":10.2},{"p":"C2","s":"O-BFL-1","x":-6.5,"y":11.7},{"p":"C2","s":"O-BFL-1","x":-6,"y":13.6},{"p":"C2","s":"O-BFL-1","x":-5.5,"y":15.8},{"p":"C2","s":"O-BFL-1","x":-5,"y":18},
{"p":"C2","s":"O-DKO","x":-10,"y":1},{"p":"C2","s":"O-DKO","x":-5,"y":1}
]
},
"vconcat":[
{"title":{"text":"A","anchor":"start","frame":"bounds","font":"Open Sans","fontSize":33,"fontWeight":"normal","offset":-6},
 "spacing":30,
 "hconcat":[
 {"width":238,"height":162,"title":{"text":["ABT-737","Mitochondrial Response"],"offset":17},
  "encoding":{"x":{"field":"x","type":"quantitative","scale":{"domain":[-12,-4],"nice":false,"zero":false},"axis":{"values":[-12,-10,-8,-6,-4],"title":"log [Drug] M"}},
   "y":{"field":"y","type":"quantitative","scale":{"domain":[0,100],"nice":false,"clamp":true},"axis":{"values":[0,20,40,60,80,100],"title":"% Cytochrome c loss"}},
   "color":{"field":"s","type":"nominal","scale":{"domain":["O-BCL-XL","O-MCL-1","O-BCL-2","O-BFL-1","O-DKO"],"range":["#3A2D9C","#E8301E","#2F9E5E","#C23C9E","#F7A52A"]},"legend":null}},
  "layer":[
   {"data":{"name":"fit"},"transform":[{"filter":{"field":"p","equal":"A1"}},{"filter":{"field":"s","oneOf":["O-BCL-XL","O-BCL-2"]}}],"mark":{"type":"line","interpolate":"monotone","strokeWidth":3},"encoding":{}},
   {"data":{"name":"fit"},"transform":[{"filter":{"field":"p","equal":"A1"}},{"filter":{"not":{"field":"s","oneOf":["O-BCL-XL","O-BCL-2"]}}}],"mark":{"type":"line","interpolate":"monotone","strokeWidth":1.8},"encoding":{}},
   {"data":{"name":"pts"},"transform":[{"filter":{"field":"p","equal":"A1"}}],"mark":{"type":"errorbar","ticks":{"size":8,"thickness":1.5},"thickness":1.5},"encoding":{"yError":{"field":"e"}}},
   {"data":{"name":"pts"},"transform":[{"filter":{"field":"p","equal":"A1"}}],"mark":{"type":"point","filled":true,"size":50,"opacity":1},"encoding":{"shape":{"field":"s","type":"nominal","scale":{"domain":["O-BCL-XL","O-MCL-1","O-BCL-2","O-BFL-1","O-DKO"],"range":["circle","square","triangle-up","triangle-down","diamond"]},"legend":null}}}
  ]},
 {"width":241,"height":162,"title":{"text":["ABT-737","Cell Toxicity"],"offset":25},
  "encoding":{"x":{"field":"x","type":"quantitative","scale":{"domain":[-12,-4],"nice":false,"zero":false},"axis":{"values":[-12,-10,-8,-6,-4],"title":"Log [Drug] M"}},
   "y":{"field":"y","type":"quantitative","scale":{"domain":[0,105],"nice":false,"clamp":true},"axis":{"values":[0,50,100],"title":["% Dead","24h"],"titleLineHeight":22}},
   "color":{"field":"s","type":"nominal","legend":null}},
  "layer":[
   {"data":{"name":"fit"},"transform":[{"filter":{"field":"p","equal":"A2"}},{"filter":{"field":"s","oneOf":["O-BCL-XL","O-BCL-2"]}}],"mark":{"type":"line","interpolate":"monotone","strokeWidth":3},"encoding":{}},
   {"data":{"name":"fit"},"transform":[{"filter":{"field":"p","equal":"A2"}},{"filter":{"not":{"field":"s","oneOf":["O-BCL-XL","O-BCL-2"]}}}],"mark":{"type":"line","interpolate":"monotone","strokeWidth":1.6},"encoding":{}},
   {"data":{"name":"pts"},"transform":[{"filter":{"field":"p","equal":"A2"}}],"mark":{"type":"errorbar","ticks":{"size":8,"thickness":1.5},"thickness":1.5},"encoding":{"yError":{"field":"e"}}},
   {"data":{"name":"pts"},"transform":[{"filter":{"field":"p","equal":"A2"}}],"mark":{"type":"point","filled":true,"size":50,"opacity":1},"encoding":{"shape":{"field":"s","type":"nominal","legend":null}}}
  ]}
 ]},
{"title":{"text":"B","anchor":"start","frame":"bounds","font":"Open Sans","fontSize":33,"fontWeight":"normal","offset":-6},
 "spacing":30,
 "hconcat":[
 {"width":238,"height":162,"title":{"text":["ABT-263","Mitochondrial Response"],"offset":17},
  "encoding":{"x":{"field":"x","type":"quantitative","scale":{"domain":[-12,-4],"nice":false,"zero":false},"axis":{"values":[-12,-10,-8,-6,-4],"title":"log [Drug] M"}},
   "y":{"field":"y","type":"quantitative","scale":{"domain":[0,100],"nice":false,"clamp":true},"axis":{"values":[0,20,40,60,80,100],"title":"% Cytochrome c loss"}},
   "color":{"field":"s","type":"nominal","legend":null}},
  "layer":[
   {"data":{"name":"fit"},"transform":[{"filter":{"field":"p","equal":"B1"}},{"filter":{"field":"s","oneOf":["O-BCL-XL","O-BCL-2"]}}],"mark":{"type":"line","interpolate":"monotone","strokeWidth":3},"encoding":{}},
   {"data":{"name":"fit"},"transform":[{"filter":{"field":"p","equal":"B1"}},{"filter":{"not":{"field":"s","oneOf":["O-BCL-XL","O-BCL-2"]}}}],"mark":{"type":"line","interpolate":"monotone","strokeWidth":1.8},"encoding":{}},
   {"data":{"name":"pts"},"transform":[{"filter":{"field":"p","equal":"B1"}}],"mark":{"type":"errorbar","ticks":{"size":8,"thickness":1.5},"thickness":1.5},"encoding":{"yError":{"field":"e"}}},
   {"data":{"name":"pts"},"transform":[{"filter":{"field":"p","equal":"B1"}}],"mark":{"type":"point","filled":true,"size":50,"opacity":1},"encoding":{"shape":{"field":"s","type":"nominal","legend":null}}}
  ]},
 {"width":241,"height":162,"title":{"text":["ABT-263","Cell Toxicity"],"offset":25},
  "encoding":{"x":{"field":"x","type":"quantitative","scale":{"domain":[-12,-4],"nice":false,"zero":false},"axis":{"values":[-12,-10,-8,-6,-4],"title":"Log [Drug] M"}},
   "y":{"field":"y","type":"quantitative","scale":{"domain":[0,105],"nice":false,"clamp":true},"axis":{"values":[0,50,100],"title":["% Dead","24h"],"titleLineHeight":22}},
   "color":{"field":"s","type":"nominal","legend":null}},
  "layer":[
   {"data":{"name":"fit"},"transform":[{"filter":{"field":"p","equal":"B2"}},{"filter":{"not":{"field":"s","equal":"O-DKO"}}}],"mark":{"type":"line","interpolate":"monotone","strokeWidth":3},"encoding":{}},
   {"data":{"name":"fit"},"transform":[{"filter":{"field":"p","equal":"B2"}},{"filter":{"field":"s","equal":"O-DKO"}}],"mark":{"type":"line","interpolate":"monotone","strokeWidth":1.6},"encoding":{}},
   {"data":{"name":"pts"},"transform":[{"filter":{"field":"p","equal":"B2"}}],"mark":{"type":"errorbar","ticks":{"size":8,"thickness":1.5},"thickness":1.5},"encoding":{"yError":{"field":"e"}}},
   {"data":{"name":"pts"},"transform":[{"filter":{"field":"p","equal":"B2"}}],"mark":{"type":"point","filled":true,"size":50,"opacity":1},"encoding":{"shape":{"field":"s","type":"nominal","legend":null}}}
  ]}
 ]},
{"title":{"text":"C","anchor":"start","frame":"bounds","font":"Open Sans","fontSize":33,"fontWeight":"normal","offset":-6},
 "spacing":30,
 "hconcat":[
 {"width":238,"height":162,"title":{"text":["AZD4320","Mitochondrial Response"],"offset":17},
  "encoding":{"x":{"field":"x","type":"quantitative","scale":{"domain":[-12,-4],"nice":false,"zero":false},"axis":{"values":[-12,-10,-8,-6,-4],"title":"log [Drug] M"}},
   "y":{"field":"y","type":"quantitative","scale":{"domain":[0,100],"nice":false,"clamp":true},"axis":{"values":[0,20,40,60,80,100],"title":"% Cytochrome c loss"}},
   "color":{"field":"s","type":"nominal","legend":null}},
  "layer":[
   {"data":{"name":"fit"},"transform":[{"filter":{"field":"p","equal":"C1"}},{"filter":{"field":"s","oneOf":["O-BCL-XL","O-BCL-2"]}}],"mark":{"type":"line","interpolate":"monotone","strokeWidth":3},"encoding":{}},
   {"data":{"name":"fit"},"transform":[{"filter":{"field":"p","equal":"C1"}},{"filter":{"not":{"field":"s","oneOf":["O-BCL-XL","O-BCL-2"]}}}],"mark":{"type":"line","interpolate":"monotone","strokeWidth":1.8},"encoding":{}},
   {"data":{"name":"pts"},"transform":[{"filter":{"field":"p","equal":"C1"}}],"mark":{"type":"errorbar","ticks":{"size":8,"thickness":1.5},"thickness":1.5},"encoding":{"yError":{"field":"e"}}},
   {"data":{"name":"pts"},"transform":[{"filter":{"field":"p","equal":"C1"}}],"mark":{"type":"point","filled":true,"size":50,"opacity":1},"encoding":{"shape":{"field":"s","type":"nominal","legend":null}}}
  ]},
 {"width":241,"height":162,"title":{"text":["AZD4320","Cell Toxicity"],"offset":25},
  "encoding":{"x":{"field":"x","type":"quantitative","scale":{"domain":[-12,-4],"nice":false,"zero":false},"axis":{"values":[-12,-10,-8,-6,-4],"title":"Log [Drug] M"}},
   "y":{"field":"y","type":"quantitative","scale":{"domain":[0,105],"nice":false,"clamp":true},"axis":{"values":[0,50,100],"title":["% Dead","24h"],"titleLineHeight":22}},
   "color":{"field":"s","type":"nominal","legend":null}},
  "layer":[
   {"data":{"name":"fit"},"transform":[{"filter":{"field":"p","equal":"C2"}},{"filter":{"field":"s","oneOf":["O-BCL-XL","O-BCL-2"]}}],"mark":{"type":"line","interpolate":"monotone","strokeWidth":3},"encoding":{}},
   {"data":{"name":"fit"},"transform":[{"filter":{"field":"p","equal":"C2"}},{"filter":{"not":{"field":"s","oneOf":["O-BCL-XL","O-BCL-2"]}}}],"mark":{"type":"line","interpolate":"monotone","strokeWidth":1.6},"encoding":{}},
   {"data":{"name":"pts"},"transform":[{"filter":{"field":"p","equal":"C2"}}],"mark":{"type":"errorbar","ticks":{"size":8,"thickness":1.5},"thickness":1.5},"encoding":{"yError":{"field":"e"}}},
   {"data":{"name":"pts"},"transform":[{"filter":{"field":"p","equal":"C2"}}],"mark":{"type":"point","filled":true,"size":50,"opacity":1},"encoding":{"shape":{"field":"s","type":"nominal","legend":null}}}
  ]}
 ]},
{"spacing":135,
 "hconcat":[
 {"width":225,"height":125,"data":{"name":"leg"},"transform":[{"filter":{"field":"s","oneOf":["O-BCL-XL","O-MCL-1","O-BCL-2"]}}],
  "encoding":{"y":{"field":"s","type":"nominal","scale":{"type":"point","padding":0.6,"domain":["O-BCL-XL","O-MCL-1","O-BCL-2"]},"axis":null}},
  "layer":[
   {"mark":{"type":"rule","strokeWidth":2},"encoding":{"x":{"datum":-1,"type":"quantitative","scale":{"domain":[-2.2,9.8],"nice":false,"zero":false},"axis":null},"x2":{"datum":1},"stroke":{"field":"s","type":"nominal","scale":{"domain":["O-BCL-XL","O-MCL-1","O-BCL-2","O-BFL-1","O-DKO"],"range":["#4352A8","#E0281C","#2EAE2E","#A043C0","#F07F14"]},"legend":null}}},
   {"mark":{"type":"point","filled":true,"size":190,"opacity":1},"encoding":{"x":{"datum":0,"type":"quantitative"},"fill":{"field":"s","type":"nominal","scale":{"domain":["O-BCL-XL","O-MCL-1","O-BCL-2","O-BFL-1","O-DKO"],"range":["#4352A8","#E0281C","#2EAE2E","#A043C0","#F07F14"]},"legend":null},"shape":{"field":"s","type":"nominal","legend":null}}},
   {"mark":{"type":"text","align":"left","baseline":"middle","font":"Liberation Sans","fontSize":20,"color":"#222222"},"encoding":{"x":{"datum":1.8,"type":"quantitative"},"text":{"field":"s"}}}
  ]},
 {"width":225,"height":86,"data":{"name":"leg"},"transform":[{"filter":{"field":"s","oneOf":["O-BFL-1","O-DKO"]}}],
  "encoding":{"y":{"field":"s","type":"nominal","scale":{"type":"point","padding":0.6,"domain":["O-BFL-1","O-DKO"]},"axis":null}},
  "layer":[
   {"mark":{"type":"rule","strokeWidth":2},"encoding":{"x":{"datum":-1,"type":"quantitative","scale":{"domain":[-2.2,9.8],"nice":false,"zero":false},"axis":null},"x2":{"datum":1},"stroke":{"field":"s","type":"nominal","legend":null}}},
   {"mark":{"type":"point","filled":true,"size":190,"opacity":1},"encoding":{"x":{"datum":0,"type":"quantitative"},"fill":{"field":"s","type":"nominal","legend":null},"shape":{"field":"s","type":"nominal","legend":null}}},
   {"mark":{"type":"text","align":"left","baseline":"middle","font":"Liberation Sans","fontSize":20,"color":"#222222"},"encoding":{"x":{"datum":1.8,"type":"quantitative"},"text":{"field":"s"}}}
  ]}
 ]}
]
}
